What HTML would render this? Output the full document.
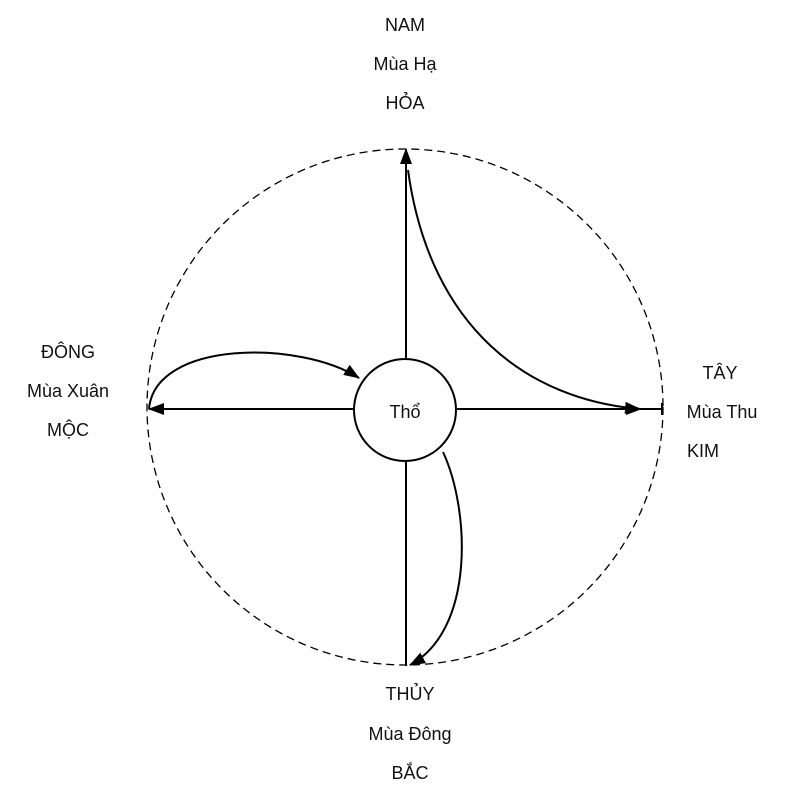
<!DOCTYPE html>
<html><head><meta charset="utf-8"><style>
html,body{margin:0;padding:0;background:#fff;}
svg text{font-family:"Liberation Sans",sans-serif;font-size:18px;fill:#111;text-anchor:middle;}
</style></head><body>
<svg width="800" height="792" viewBox="0 0 800 792" xmlns="http://www.w3.org/2000/svg">
<defs>
<marker id="b" markerWidth="16" markerHeight="12" refX="15" refY="6" orient="auto" markerUnits="userSpaceOnUse">
<path d="M0,0 L16,6 L0,12 Z" fill="#000"/></marker>
</defs>
<circle cx="405" cy="407" r="258" fill="none" stroke="#000" stroke-width="1.3" stroke-dasharray="8,5"/>
<g stroke="#000" stroke-width="2" fill="none">
<line x1="406" y1="358" x2="406" y2="149" marker-end="url(#b)"/>
<line x1="457" y1="409" x2="662" y2="409"/>
<line x1="457" y1="409" x2="641" y2="409" marker-end="url(#b)"/>
<line x1="354" y1="409" x2="149" y2="409" marker-end="url(#b)"/>
<line x1="406" y1="461" x2="406" y2="666"/>
<path d="M408,170 C430,330 530,400 640,409" marker-end="url(#b)"/>
<path d="M149,409 C155,340 300,340 359,378" marker-end="url(#b)"/>
<path d="M443,452 C470,510 475,630 410,665" marker-end="url(#b)"/>
<line x1="662" y1="403" x2="662" y2="415"/>
<circle cx="405" cy="410" r="51" fill="#fff"/>
</g>
<text x="405" y="418">Thổ</text>
<text x="405" y="31">NAM</text>
<text x="405" y="70">Mùa Hạ</text>
<text x="405" y="109">HỎA</text>
<text x="68" y="358">ĐÔNG</text>
<text x="68" y="397">Mùa Xuân</text>
<text x="68" y="436">MỘC</text>
<text x="720" y="379">TÂY</text>
<text x="722" y="418">Mùa Thu</text>
<text x="703" y="457">KIM</text>
<text x="410" y="700">THỦY</text>
<text x="410" y="740">Mùa Đông</text>
<text x="410" y="779">BẮC</text>
</svg>
</body></html>
